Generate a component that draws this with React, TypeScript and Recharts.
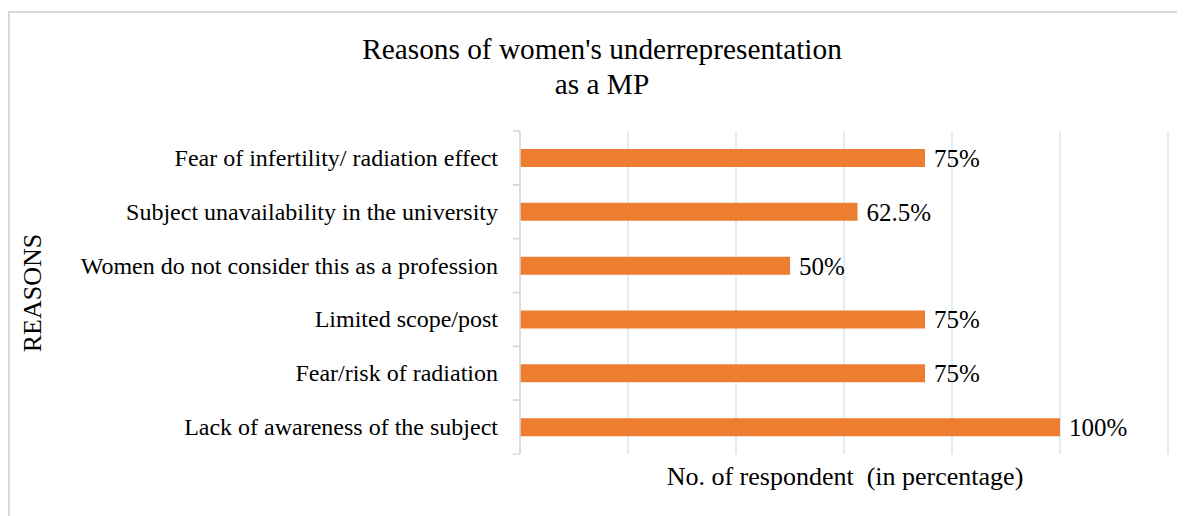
import { Bar, BarChart, CartesianGrid, LabelList, XAxis, YAxis } from "recharts"

const reasons = [
  "Fear of infertility/ radiation effect",
  "Subject unavailability in the university",
  "Women do not consider this as a profession",
  "Limited scope/post",
  "Fear/risk of radiation",
  "Lack of awareness of the subject",
]
const percentages = [75, 62.5, 50, 75, 75, 100]
const xTicks = [0, 20, 40, 60, 80, 100, 120]

const FONT = "'Liberation Serif', 'Times New Roman', serif"
const W = 1177
const H = 508
const margin = { top: 123, right: 17, bottom: 61, left: 0 }
const AXIS_W = 512
const halfBand = (H - margin.top - margin.bottom) / reasons.length / 2

const chartData = reasons.map((name, i) => ({ name, value: percentages[i] }))

function ReasonTick(props: any) {
  const { x, y, payload } = props
  return (
    <g>
      <line x1={x - 7} x2={x} y1={y - halfBand} y2={y - halfBand} stroke="#d9d9d9" strokeWidth={1.5} />
      <line x1={x - 7} x2={x} y1={y + halfBand} y2={y + halfBand} stroke="#d9d9d9" strokeWidth={1.5} />
      <text x={x - 22} y={y} textAnchor="end" dominantBaseline="central" fill="#000" fontSize={24} fontFamily={FONT}>
        {payload.value}
      </text>
    </g>
  )
}

// x ticks exist only to place the grid lines; nothing is printed
const NoTick = () => <g />

export default function App() {
  return (
    <div style={{ position: "relative", width: W, height: H, fontFamily: FONT }}>
      <div
        style={{
          position: "absolute",
          left: 0,
          top: 3,
          right: 0,
          bottom: 0,
          borderTop: "2px solid #d9d9d9",
          borderLeft: "2px solid #d9d9d9",
        }}
      />
      <div
        style={{
          position: "absolute",
          left: 194,
          width: 800,
          top: 24,
          textAlign: "center",
          fontSize: 29.3,
          lineHeight: "35px",
          color: "#000",
        }}
      >
        Reasons of women's underrepresentation
        <br />
        as a MP
      </div>
      <div style={{ position: "absolute", left: 0, top: 0 }}>
        <BarChart width={W} height={H} data={chartData} layout="vertical" margin={margin}>
          <CartesianGrid horizontal={false} stroke="#d5e9f3" strokeWidth={1.5} />
          <XAxis
            type="number"
            domain={[0, 120]}
            ticks={xTicks}
            tick={NoTick}
            axisLine={false}
            tickLine={false}
            height={1}
          />
          <YAxis
            type="category"
            dataKey="name"
            width={AXIS_W}
            axisLine={{ stroke: "#d9d9d9", strokeWidth: 1.5 }}
            tickLine={false}
            tickSize={0}
            tickMargin={0}
            tick={<ReasonTick />}
            interval={0}
          />
          <Bar dataKey="value" fill="#ed7d31" barSize={18} isAnimationActive={false}>
            <LabelList
              dataKey="value"
              position="right"
              offset={9}
              fill="#000"
              fontSize={25}
              fontFamily={FONT}
              formatter={(v: any) => `${v}%`}
            />
          </Bar>
        </BarChart>
      </div>
      <div
        style={{
          position: "absolute",
          left: 25,
          top: 285,
          transform: "translate(-50%, -50%) rotate(-90deg)",
          fontSize: 26,
          whiteSpace: "nowrap",
          color: "#000",
        }}
      >
        REASONS
      </div>
      <div
        style={{
          position: "absolute",
          left: 837,
          top: 469,
          transform: "translate(-50%, -50%)",
          fontSize: 26,
          whiteSpace: "pre",
          color: "#000",
        }}
      >
        {"No. of respondent  (in percentage)"}
      </div>
    </div>
  )
}
